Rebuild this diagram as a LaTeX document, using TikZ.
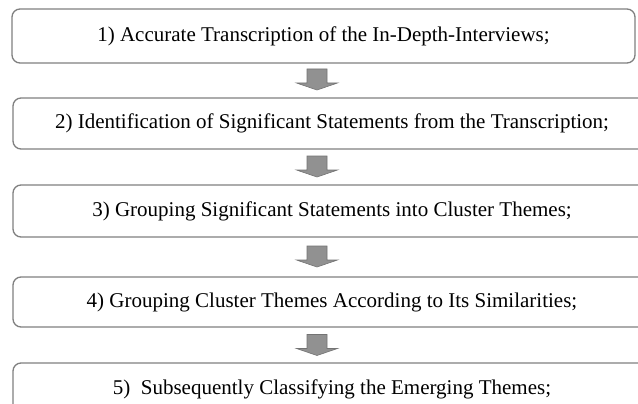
\documentclass[tikz,border=0pt]{standalone}
\usepackage{fontspec}
\setmainfont{Liberation Serif}
\definecolor{boxline}{RGB}{128,128,128}
\definecolor{arrfill}{RGB}{145,145,145}
\definecolor{arrline}{RGB}{115,115,115}
\tikzset{
  stepbox/.style={draw=boxline, line width=1.3pt, rounded corners=8pt, fill=white,
    inner sep=0pt, font=\fontsize{21}{25}\selectfont},
  blkarrow/.pic={
    \filldraw[draw=arrline, fill=arrfill, line width=0.6pt, line join=miter]
      (-10,-10.5) -- (10,-10.5) -- (10,3.5) -- (20.5,3.5) -- (0,10.5)
      -- (-20.5,3.5) -- (-10,3.5) -- cycle;
  }
}
\begin{document}
\begin{tikzpicture}[x=1pt,y=-1pt]
\useasboundingbox (0,0) rectangle (638,404);
\clip (0,0) rectangle (638,404);
\fill[white] (0,0) rectangle (638,404);
\node[stepbox, minimum width=623pt, minimum height=54pt] (b1) at (323.5,36)
  {1) Accurate Transcription of the In-Depth-Interviews;};
\node[stepbox, minimum width=638pt, minimum height=51pt] (b2) at (332,123.5)
  {2) Identification of Significant Statements from the Transcription;};
\node[stepbox, minimum width=638pt, minimum height=52pt] (b3) at (332,211)
  {3) Grouping Significant Statements into Cluster Themes;};
\node[stepbox, minimum width=638pt, minimum height=50pt] (b4) at (332,302)
  {4) Grouping Cluster Themes According to Its Similarities;};
\node[stepbox, minimum width=638pt, minimum height=52pt] (b5) at (332,389)
  {5)\ \ Subsequently Classifying the Emerging Themes;};
\pic (a1) at (317,79.5) {blkarrow};
\pic (a2) at (317,166.5) {blkarrow};
\pic (a3) at (317,256.5) {blkarrow};
\pic (a4) at (317,345) {blkarrow};
\end{tikzpicture}
\end{document}
